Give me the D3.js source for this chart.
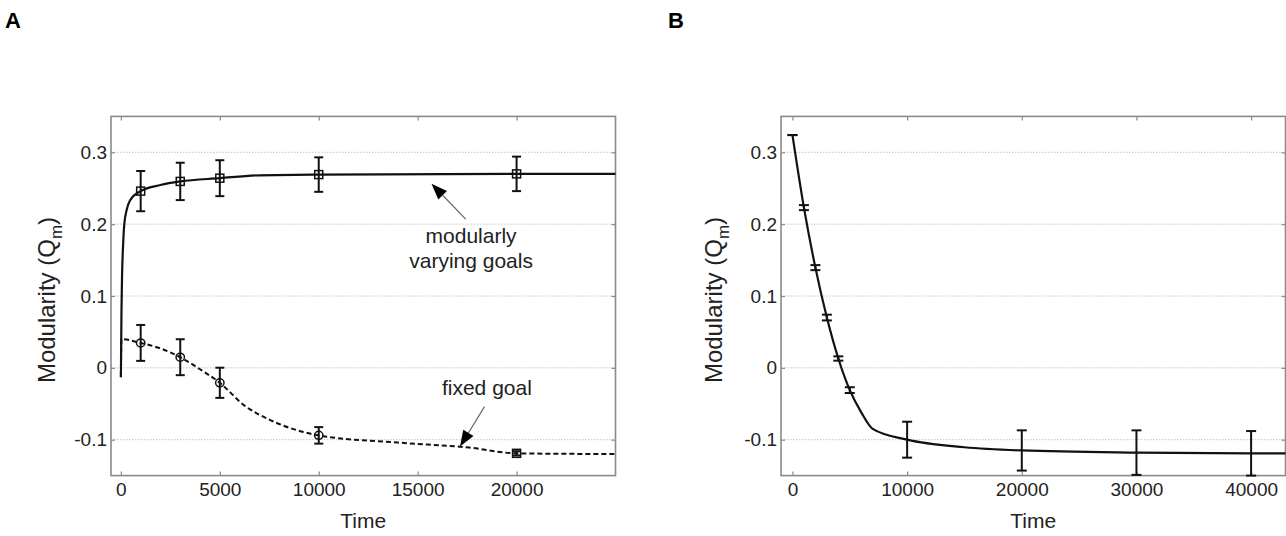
<!DOCTYPE html>
<html>
<head>
<meta charset="utf-8">
<script src="https://cdn.jsdelivr.net/npm/d3@7"></script>
<style>
  body { margin: 0; background: #fff; }
  svg { font-family: "Liberation Sans", Arial, sans-serif; }
</style>
</head>
<body>
<div id="chart-area"></div>
<script>
// ---- data ----
// panel A: sampled points with error bars
const timeA = [1000, 3000, 5000, 10000, 20000];
const varyingMean = [0.246, 0.2595, 0.264, 0.269, 0.270];
const varyingErr = [0.028, 0.026, 0.025, 0.024, 0.024];
const fixedMean = [0.0347, 0.0148, -0.0208, -0.094, -0.119];
const fixedErr = [0.025, 0.025, 0.021, 0.0115, 0.003];
const fixedMarker = ['circle', 'circle', 'circle', 'circle', 'square'];

// panel A: continuous curves
const varyingCurveT = [0, 30, 60, 110, 172, 293, 460, 1000, 2000, 3000, 5000, 7000, 10000, 20000, 25000];
const varyingCurveQ = [-0.013, 0.08, 0.13, 0.17, 0.2, 0.22, 0.233, 0.246, 0.2545, 0.2595, 0.264, 0.268, 0.269, 0.27, 0.27];
const fixedCurveT = [0, 30, 1000, 2000, 3000, 4000, 5000, 6270, 7500, 10000, 14000, 17600, 20000, 25000];
const fixedCurveQ = [-0.012, 0.04, 0.0347, 0.027, 0.0148, -0.002, -0.0208, -0.053, -0.072, -0.094, -0.104, -0.111, -0.119, -0.12];

// panel B
const timeB = [0, 1000, 2000, 3000, 4000, 5000, 10000, 20000, 30000, 40000];
const bMean = [0.324, 0.223, 0.1395, 0.070, 0.013, -0.031, -0.100, -0.115, -0.118, -0.119];
const bErr = [0, 0.0035, 0.0035, 0.004, 0.003, 0.004, 0.025, 0.028, 0.031, 0.031];
const curveBT = [0, 1000, 2000, 3000, 4000, 5000, 6000, 7000, 10000, 15000, 20000, 30000, 40000, 43000];
const curveBQ = [0.324, 0.223, 0.1395, 0.070, 0.013, -0.031, -0.062, -0.085, -0.100, -0.1105, -0.115, -0.118, -0.119, -0.119];

// ticks
const yTicks = [-0.1, 0, 0.1, 0.2, 0.3];
const xTicksA = [0, 5000, 10000, 15000, 20000];
const xTicksB = [0, 10000, 20000, 30000, 40000];

// ---- layout ----
const W = 1286, H = 536;
const plotTop = 116.4, plotBottom = 475.6;

const svg = d3.select('#chart-area')
  .append('svg')
  .attr('width', W)
  .attr('height', H);

const y = d3.scaleLinear().domain([-0.15, 0.35]).range([plotBottom, plotTop]);
const xA = d3.scaleLinear().domain([-500, 25000]).range([111, 615.5]);
const xB = d3.scaleLinear().domain([-1000, 43000]).range([781, 1285.5]);

function drawFrame(x, xTicks, labelX) {
  const [x0, x1] = x.range();
  const g = svg.append('g');

  // grid
  g.selectAll('.grid')
    .data(yTicks)
    .enter().append('line')
    .attr('x1', x0).attr('x2', x1)
    .attr('y1', d => y(d)).attr('y2', d => y(d))
    .attr('stroke', '#c4c4c4')
    .attr('stroke-dasharray', '1.5,1.5');

  // axes (MATLAB style inward ticks)
  g.append('g')
    .attr('transform', `translate(0, ${plotBottom})`)
    .call(d3.axisBottom(x).tickValues(xTicks).tickSize(-4).tickPadding(7).tickFormat(d => String(d)));
  g.append('g')
    .attr('transform', `translate(0, ${plotTop})`)
    .call(d3.axisTop(x).tickValues(xTicks).tickSize(-4).tickFormat(''));
  g.append('g')
    .attr('transform', `translate(${x0}, 0)`)
    .call(d3.axisLeft(y).tickValues(yTicks).tickSize(-4).tickPadding(4).tickFormat(d => String(d)));
  g.append('g')
    .attr('transform', `translate(${x1}, 0)`)
    .call(d3.axisRight(y).tickValues(yTicks).tickSize(-4).tickFormat(''));

  g.selectAll('.domain').remove();
  g.selectAll('.tick line').attr('stroke', '#888').attr('stroke-width', 1.2);
  g.selectAll('.tick text')
    .attr('font-size', '19px')
    .attr('font-family', '"Liberation Sans", Arial, sans-serif')
    .attr('fill', '#222');

  // box
  g.append('rect')
    .attr('x', x0).attr('y', plotTop)
    .attr('width', x1 - x0).attr('height', plotBottom - plotTop)
    .attr('fill', 'none')
    .attr('stroke', '#8a8a8a')
    .attr('stroke-width', 1.6);

  // X label
  g.append('text')
    .attr('x', (x0 + x1) / 2)
    .attr('y', 528)
    .attr('font-size', '21px')
    .attr('text-anchor', 'middle')
    .attr('fill', '#222')
    .text('Time');

  // Y label
  const yl = g.append('text')
    .attr('transform', `translate(${labelX}, ${(plotTop + plotBottom) / 2 + 4}) rotate(-90)`)
    .attr('font-size', '24px')
    .attr('text-anchor', 'middle')
    .attr('fill', '#222');
  yl.append('tspan').text('Modularity (Q');
  yl.append('tspan').attr('font-size', '17px').attr('dy', 7).text('m');
  yl.append('tspan').attr('dy', -7).text(')');
  return g;
}

function drawErrorBars(g, x, ts, means, errs, cap) {
  const bars = g.selectAll(null)
    .data(ts.map((t, i) => ({t, m: means[i], e: errs[i]})))
    .enter().append('g')
    .attr('stroke', '#111')
    .attr('stroke-width', 2);
  bars.append('line')
    .attr('x1', d => x(d.t)).attr('x2', d => x(d.t))
    .attr('y1', d => y(d.m + d.e)).attr('y2', d => y(d.m - d.e));
  bars.append('line')
    .attr('x1', d => x(d.t) - cap / 2).attr('x2', d => x(d.t) + cap / 2)
    .attr('y1', d => y(d.m + d.e)).attr('y2', d => y(d.m + d.e));
  bars.append('line')
    .attr('x1', d => x(d.t) - cap / 2).attr('x2', d => x(d.t) + cap / 2)
    .attr('y1', d => y(d.m - d.e)).attr('y2', d => y(d.m - d.e));
}

function drawMarkers(g, x, ts, means, kinds) {
  ts.forEach((t, i) => {
    if (kinds[i] === 'circle') {
      g.append('ellipse')
        .attr('cx', x(t)).attr('cy', y(means[i]))
        .attr('rx', 4.2).attr('ry', 4)
        .attr('fill', 'none').attr('stroke', '#111').attr('stroke-width', 1.5);
    } else {
      g.append('rect')
        .attr('x', x(t) - 4).attr('y', y(means[i]) - 4)
        .attr('width', 8).attr('height', 8)
        .attr('fill', 'none').attr('stroke', '#111').attr('stroke-width', 1.5);
    }
  });
}

function lineOf(x) {
  return d3.line()
    .x(d => x(d[0]))
    .y(d => y(d[1]))
    .curve(d3.curveMonotoneX);
}

function arrow(g, x, from, to) {
  const x1 = x(from[0]), y1 = y(from[1]);
  const x2 = x(to[0]), y2 = y(to[1]);
  const ang = Math.atan2(y2 - y1, x2 - x1);
  const len = 16, half = 6;
  const bx = x2 - len * Math.cos(ang), by = y2 - len * Math.sin(ang);
  g.append('line')
    .attr('x1', x1).attr('y1', y1).attr('x2', bx).attr('y2', by)
    .attr('stroke', '#666').attr('stroke-width', 1.2);
  g.append('path')
    .attr('d', `M${x2},${y2}L${bx + half * Math.sin(ang)},${by - half * Math.cos(ang)}L${bx - half * Math.sin(ang)},${by + half * Math.cos(ang)}Z`)
    .attr('fill', '#000');
}

// ---- panel A ----
const gA = drawFrame(xA, xTicksA, 55);

gA.append('path')
  .datum(fixedCurveT.map((t, i) => [t, fixedCurveQ[i]]))
  .attr('d', lineOf(xA))
  .attr('fill', 'none')
  .attr('stroke', '#111')
  .attr('stroke-width', 2)
  .attr('stroke-dasharray', '5,3');

gA.append('path')
  .datum(varyingCurveT.map((t, i) => [t, varyingCurveQ[i]]))
  .attr('d', lineOf(xA))
  .attr('fill', 'none')
  .attr('stroke', '#111')
  .attr('stroke-width', 2.2);

drawErrorBars(gA, xA, timeA, varyingMean, varyingErr, 9);
drawErrorBars(gA, xA, timeA, fixedMean, fixedErr, 9);
drawMarkers(gA, xA, timeA, varyingMean, timeA.map(() => 'square'));
drawMarkers(gA, xA, timeA, fixedMean, fixedMarker);

// annotations
arrow(gA, xA, [17430, 0.207], [15700, 0.2563]);
arrow(gA, xA, [18380, -0.054], [17140, -0.1096]);

gA.append('text')
  .attr('x', xA(17700)).attr('y', y(0.174))
  .attr('text-anchor', 'middle').attr('font-size', '21px').attr('fill', '#222')
  .text('modularly');
gA.append('text')
  .attr('x', xA(17700)).attr('y', y(0.139))
  .attr('text-anchor', 'middle').attr('font-size', '21px').attr('fill', '#222')
  .text('varying goals');
gA.append('text')
  .attr('x', xA(18500)).attr('y', y(-0.038))
  .attr('text-anchor', 'middle').attr('font-size', '21px').attr('fill', '#222')
  .text('fixed goal');

// ---- panel B ----
const gB = drawFrame(xB, xTicksB, 722);

gB.append('path')
  .datum(curveBT.map((t, i) => [t, curveBQ[i]]))
  .attr('d', lineOf(xB))
  .attr('fill', 'none')
  .attr('stroke', '#111')
  .attr('stroke-width', 2.2);

drawErrorBars(gB, xB, timeB, bMean, bErr, 10);

// panel letters
svg.append('text')
  .attr('x', 5).attr('y', 28)
  .attr('font-size', '22px').attr('font-weight', 'bold')
  .text('A');
svg.append('text')
  .attr('x', 668).attr('y', 28)
  .attr('font-size', '22px').attr('font-weight', 'bold')
  .text('B');
</script>
</body>
</html>
